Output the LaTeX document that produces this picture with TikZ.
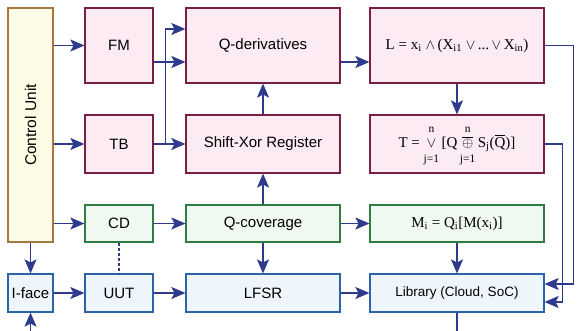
\documentclass[tikz,border=0pt]{standalone}
\usepackage{fontspec}
\usepackage{amsmath}
\setmainfont{Liberation Serif}
\setsansfont{Liberation Sans}
\usetikzlibrary{arrows.meta}
\definecolor{pinkfill}{HTML}{FCEBF3}
\definecolor{pinkdraw}{HTML}{7B1E45}
\definecolor{greenfill}{HTML}{EFF8F1}
\definecolor{greendraw}{HTML}{2F7D44}
\definecolor{bluefill}{HTML}{EEF6FC}
\definecolor{bluedraw}{HTML}{2B62A8}
\definecolor{cufill}{HTML}{FEFCE6}
\definecolor{cudraw}{HTML}{A7783E}
\definecolor{arrowcol}{HTML}{2E3A8C}
\newcommand{\stackop}[1]{$\vcenter{\hbox{\begin{tabular}{@{}c@{}}{\fontsize{11.5}{12}\selectfont n}\\[-3pt]{\fontsize{15}{15}\selectfont #1}\\[-3pt]{\fontsize{11.5}{12}\selectfont j=1}\end{tabular}}}$}
\begin{document}
\begin{tikzpicture}[x=1pt,y=-1pt,
  box/.style={rectangle, line width=1.2pt, inner sep=0pt, font=\sffamily\fontsize{15}{17}\selectfont},
  pinkbox/.style={box, fill=pinkfill, draw=pinkdraw},
  greenbox/.style={box, fill=greenfill, draw=greendraw},
  bluebox/.style={box, fill=bluefill, draw=bluedraw},
  cubox/.style={box, fill=cufill, draw=cudraw},
  formula/.style={font=\rmfamily\fontsize{15}{18}\selectfont},
  arr/.style={draw=arrowcol, line width=1.2pt, -{Stealth[length=14pt,width=12pt,inset=3pt]}},
  ln/.style={draw=arrowcol, line width=1.2pt}
]
\useasboundingbox (0,0) rectangle (577,331);
% row 1
\node[cubox, minimum width=45, minimum height=234] (CU) at (30.5,125) {};
\node[rotate=90, font=\sffamily\fontsize{15.5}{17}\selectfont] (CUt) at (CU.center) {Control Unit};
\node[pinkbox, minimum width=68, minimum height=75] (FM) at (119,45.5) {FM};
\node[pinkbox, minimum width=154, minimum height=75] (QD) at (263,45.5) {Q-derivatives};
\node[pinkbox, minimum width=174, minimum height=75, formula] (L) at (457,45.5)
  {L = x\textsubscript{i} $\wedge$\,(X\textsubscript{i1} $\vee$\,...\,$\vee$\,X\textsubscript{in})};
% row 2
\node[pinkbox, minimum width=68, minimum height=58] (TB) at (119,144) {TB};
\node[pinkbox, minimum width=154, minimum height=58] (SX) at (263,144) {Shift-Xor Register};
\node[pinkbox, minimum width=174, minimum height=58, formula] (T) at (457,144)
  {T = \stackop{$\vee$}\,[Q\,\stackop{$\overline{\oplus}$}\,S\textsubscript{j}($\overline{\mathrm{Q}}$)]};
% row 3
\node[greenbox, minimum width=68, minimum height=37] (CD) at (119,223.5) {CD};
\node[greenbox, minimum width=154, minimum height=37] (QC) at (263,223.5) {Q-coverage};
\node[greenbox, minimum width=174, minimum height=37, formula] (MI) at (457,223.5)
  {M\textsubscript{i} = Q\textsubscript{i}[M(x\textsubscript{i})]};
% row 4
\node[bluebox, minimum width=45, minimum height=38] (IF) at (30.5,293) {I-face};
\node[bluebox, minimum width=68, minimum height=38] (UUT) at (119,293) {UUT};
\node[bluebox, minimum width=154, minimum height=38] (LF) at (263,293) {LFSR};
\node[bluebox, minimum width=174, minimum height=38] (LIB) at (457,293) {\fontsize{13.5}{16}\selectfont Library (Cloud, SoC)};
% coordinates
\coordinate (inbot) at (30.5,331);
\coordinate (libbot) at (457,331);
% arrows from control unit
\draw[arr] (CU.east|-FM.west) -- (FM.west);
\draw[arr] (CU.east|-TB.west) -- (TB.west);
\draw[arr] (CU.east|-CD.west) -- (CD.west);
\draw[arr] (CU.south) -- (IF.north);
\draw[arr] (inbot) -- (IF.south);
% row 1
\draw[arr] ([yshift=-16.5]FM.east) -- ([yshift=-16.5]QD.west);
\draw[arr] ([yshift=-16.5]QD.east) -- ([yshift=-16.5]L.west);
% TB branch
\draw[arr] (TB.east) -- (SX.west);
\draw[arr] ([xshift=12]TB.east) |- ([yshift=16.5]QD.west);
\draw[arr] (SX.north) -- (QD.south);
\draw[arr] (QC.north) -- (SX.south);
\draw[arr] (L.south) -- (T.north);
% right feedback lines
\draw[arr] (L.east) -- ++(29,0) |- ([yshift=9]LIB.east);
\draw[arr] (T.east) -- ++(18,0) |- ([yshift=-9]LIB.east);
% row 3
\draw[arr] (CD.east) -- (QC.west);
\draw[arr] (QC.east) -- (MI.west);
\draw[arr] (MI.south) -- (LIB.north);
\draw[arr] (QC.south) -- (LF.north);
\draw[ln, dashed, dash pattern=on 3pt off 2pt] (CD.south) -- (UUT.north);
% row 4
\draw[arr] (IF.east) -- (UUT.west);
\draw[arr] (UUT.east) -- (LF.west);
\draw[arr] (LF.east) -- (LIB.west);
\draw[ln] (LIB.south) -- (libbot);
\end{tikzpicture}
\end{document}
